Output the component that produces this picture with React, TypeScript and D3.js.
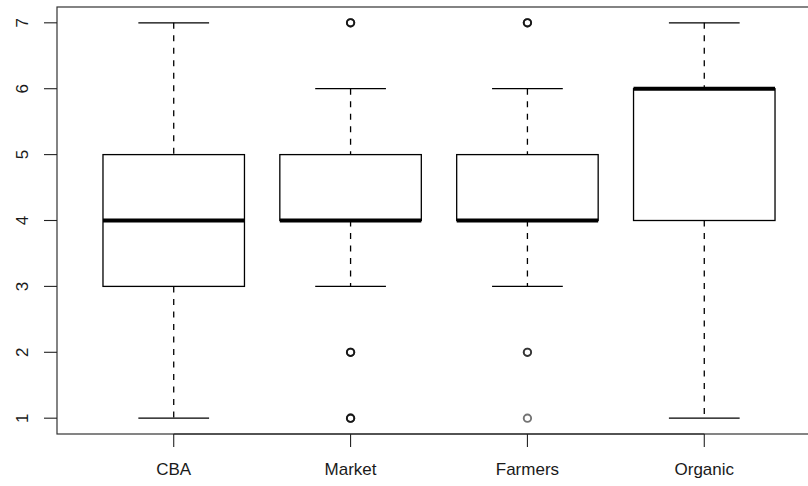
import React from 'react';
import { scaleLinear, scalePoint } from 'd3';

// box stats
const categories = ['CBA', 'Market', 'Farmers', 'Organic'];
const whiskerLow = [1, 3, 3, 1];
const q1 = [3, 4, 4, 4];
const medians = [4, 4, 4, 6];
const q3 = [5, 5, 5, 6];
const whiskerHigh = [7, 6, 6, 7];
// repeated values = overlapping points (they come out darker)
const outliers = [[], [7, 7, 7, 2, 2, 2, 1, 1, 1], [7, 7, 7, 2, 2, 1], []];
const yTicks = [1, 2, 3, 4, 5, 6, 7];

const W = 808;
const H = 486;

const App = () => {
	const plot = { left: 57, right: 821, top: 7, bottom: 434 };

	// R style: range padded by 4%
	const x = scaleLinear().domain([0.34, 4.66]).range([plot.left, plot.right]);
	const y = scaleLinear().domain([0.76, 7.24]).range([plot.bottom, plot.top]);
	const pos = scalePoint().domain(categories).range([x(1), x(4)]);

	const boxHalf = x(1.4) - x(1);
	const capHalf = boxHalf / 2;
	const font = '"Liberation Sans", Arial, sans-serif';

	return (
		<svg width={W} height={H} style={{ position: 'absolute', left: 0, top: 0, background: '#fff' }}>
			{categories.map((c, i) => {
				const cx = pos(c) as number;
				return (
					<g key={c} stroke="#000" fill="none">
						<line x1={cx} x2={cx} y1={y(whiskerHigh[i])} y2={y(q3[i])} strokeDasharray="6,6.5" strokeWidth={1.3} />
						<line x1={cx} x2={cx} y1={y(q1[i])} y2={y(whiskerLow[i])} strokeDasharray="6,6.5" strokeWidth={1.3} />
						<line x1={cx - capHalf} x2={cx + capHalf} y1={y(whiskerHigh[i])} y2={y(whiskerHigh[i])} strokeWidth={1.3} />
						<line x1={cx - capHalf} x2={cx + capHalf} y1={y(whiskerLow[i])} y2={y(whiskerLow[i])} strokeWidth={1.3} />
						<rect
							x={cx - boxHalf}
							y={y(q3[i])}
							width={boxHalf * 2}
							height={y(q1[i]) - y(q3[i])}
							fill="#fff"
							strokeWidth={1.3}
						/>
						<line x1={cx - boxHalf} x2={cx + boxHalf} y1={y(medians[i])} y2={y(medians[i])} strokeWidth={4} />
						{outliers[i].map((v, j) => (
							<circle key={j} cx={cx} cy={y(v)} r={3.7} strokeWidth={1.9} strokeOpacity={0.55} />
						))}
					</g>
				);
			})}

			{/* frame */}
			<rect
				x={plot.left}
				y={plot.top}
				width={plot.right - plot.left}
				height={plot.bottom - plot.top}
				fill="none"
				stroke="#333"
				strokeWidth={1.2}
			/>

			{/* y axis */}
			<g>
				{yTicks.map((t) => (
					<g key={t}>
						<line x1={plot.left - 13} x2={plot.left} y1={y(t)} y2={y(t)} stroke="#222" strokeWidth={1.1} />
						<text
							transform={`translate(28,${y(t)}) rotate(-90)`}
							textAnchor="middle"
							fontFamily={font}
							fontSize={17}
							fill="#1a1a1a"
						>
							{t}
						</text>
					</g>
				))}
			</g>

			{/* x axis */}
			<g>
				<line x1={pos(categories[0])} x2={pos(categories[3])} y1={plot.bottom} y2={plot.bottom} stroke="#222" strokeWidth={1.1} />
				{categories.map((c) => (
					<g key={c}>
						<line x1={pos(c)} x2={pos(c)} y1={plot.bottom} y2={plot.bottom + 13} stroke="#222" strokeWidth={1.1} />
						<text x={pos(c)} y={475} textAnchor="middle" fontFamily={font} fontSize={17} fill="#1a1a1a">
							{c}
						</text>
					</g>
				))}
			</g>
		</svg>
	);
};

export default App;
